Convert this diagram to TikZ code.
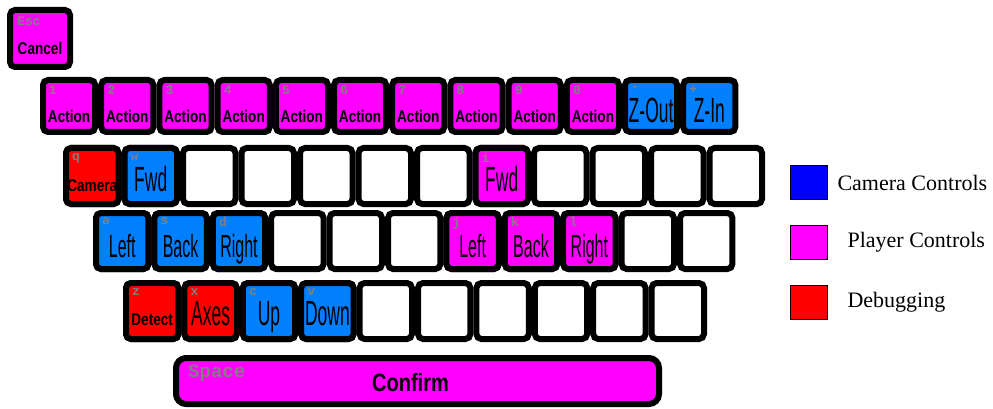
\documentclass[tikz,border=0pt]{standalone}
\usepackage{fontspec}
\setmainfont{Liberation Serif}
\newfontfamily\heavyfont[FakeStretch=0.8]{Liberation Sans}
\newfontfamily\tallfont[FakeStretch=0.5]{Liberation Sans}
\newfontfamily\topfont{Liberation Mono}
\usetikzlibrary{positioning}
\definecolor{player}{RGB}{255,0,255}
\definecolor{cam}{RGB}{0,128,255}
\definecolor{debug}{RGB}{255,0,0}
\definecolor{legcam}{RGB}{0,0,255}

\begin{document}
\begin{tikzpicture}[x=1pt, y=-1pt,
    key/.style={draw, line width=6pt, rounded corners=5pt, inner sep=0pt,
        minimum width=52.4pt, minimum height=56pt},
    keytop/.style={anchor=north west, inner sep=0pt, text=gray,
        font=\topfont\bfseries\fontsize{13}{13}\selectfont},
    heavy/.style={anchor=base, inner sep=0pt, font=\heavyfont\bfseries\fontsize{17}{17}\selectfont},
    tall/.style={anchor=base, inner sep=0pt, font=\tallfont\fontsize{35}{35}\selectfont},
    legbox/.style={draw, line width=1pt, minimum width=37pt, minimum height=34pt},
    legtext/.style={font=\fontsize{22}{22}\selectfont}]

\useasboundingbox (0,0) rectangle (993,409);

\node[key, fill=player, minimum width=60pt, minimum height=57pt] (esc) at (40,38.5) {};
\node[keytop] at ([shift={(10,10)}]esc.north west) {Esc};
\node[heavy] at ([yshift=-16]esc.center) {Cancel};

\foreach \k/\t/\c/\f [count=\i from 0] in {1/Action/player/heavy, 2/Action/player/heavy,
    3/Action/player/heavy, 4/Action/player/heavy, 5/Action/player/heavy,
    6/Action/player/heavy, 7/Action/player/heavy, 8/Action/player/heavy,
    9/Action/player/heavy, 0/Action/player/heavy, {-}/Z-Out/cam/tall, +/Z-In/cam/tall} {
    \node[key, fill=\c, minimum width=52.2pt, minimum height=52pt] (num\i) at ({69.1+58.2*\i},106) {};
    \node[keytop] at ([shift={(9,9)}]num\i.north west) {\k};
    \node[\f] at ([yshift=-17]num\i.center) {\t};
}

\foreach \i in {0,...,11}
    \node[key, minimum width=52.5pt] (q\i) at ({92.25+58.5*\i},176) {};
\foreach \i/\k/\t/\c/\f in {0/q/Camera/debug/heavy, 1/w/Fwd/cam/tall, 7/i/Fwd/player/tall} {
    \node[key, fill=\c, minimum width=52.5pt] (q\i) at ({92.25+58.5*\i},176) {};
    \node[keytop] at ([shift={(9,8)}]q\i.north west) {\k};
    \node[\f] at ([yshift=-15]q\i.center) {\t};
}

\foreach \i in {0,...,10}
    \node[key] (a\i) at ({122.2+58.4*\i},241) {};
\foreach \i/\k/\t/\c in {0/a/Left/cam, 1/s/Back/cam, 2/d/Right/cam,
    6/j/Left/player, 7/k/Back/player, 8/l/Right/player} {
    \node[key, fill=\c] (a\i) at ({122.2+58.4*\i},241) {};
    \node[keytop] at ([shift={(9,7)}]a\i.north west) {\k};
    \node[tall, font=\tallfont\fontsize{32}{32}\selectfont] at ([yshift=-16]a\i.center) {\t};
}

\foreach \i in {0,...,9}
    \node[key] (z\i) at ({152.2+58.4*\i},311) {};
\foreach \i/\k/\t/\c/\f in {0/z/Detect/debug/heavy, 1/x/Axes/debug/tall,
    2/c/Up/cam/tall, 3/v/Down/cam/tall} {
    \node[key, fill=\c] (z\i) at ({152.2+58.4*\i},311) {};
    \node[keytop] at ([shift={(9,8)}]z\i.north west) {\k};
    \node[\f] at ([yshift=-14]z\i.center) {\t};
}

\node[key, fill=player, rounded corners=10pt, minimum width=483pt, minimum height=46pt] (space) at (417.5,381) {};
\node[keytop, font=\topfont\bfseries\fontsize{19}{19}\selectfont] at ([shift={(15,10)}]space.north west) {Space};
\node[heavy, font=\heavyfont\bfseries\fontsize{25}{25}\selectfont] at ([xshift=-7,yshift=-10]space.center) {Confirm};

\node[legbox, fill=legcam] (lcam) at (809,182.5) {};
\node[legbox, fill=player] (lplay) at (809,242.5) {};
\node[legbox, fill=debug] (ldebug) at (809,302.5) {};
\node[legtext, right=6pt of lcam] {Camera Controls};
\node[legtext, right=16pt of lplay] {Player Controls};
\node[legtext, right=16pt of ldebug] {Debugging};

\end{tikzpicture}
\end{document}
